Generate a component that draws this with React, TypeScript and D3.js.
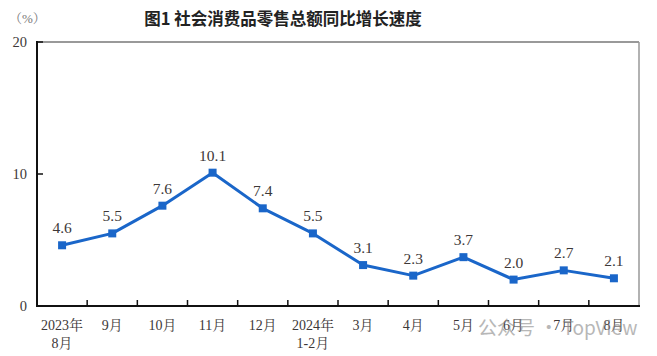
import React from "react";
import * as d3 from "d3";

const categories = ["2023年|8月", "9月", "10月", "11月", "12月", "2024年|1-2月", "3月", "4月", "5月", "6月", "7月", "8月"];
const values = [4.6, 5.5, 7.6, 10.1, 7.4, 5.5, 3.1, 2.3, 3.7, 2.0, 2.7, 2.1];
const yTicks = [0, 10, 20];
const title = "图1 社会消费品零售总额同比增长速度";

const W = 657, H = 356;
const left = 37, right = 639, top = 42, bottom = 306;
const blue = "#1a66c9";
const textCol = "#3d3838";
const serif = "'Liberation Serif', 'Noto Serif CJK SC', 'Noto Sans CJK SC', serif";

export default function App() {
  const x = d3.scaleBand<string>().domain(categories).range([left, right]);
  const y = d3.scaleLinear().domain([0, 20]).range([bottom, top]);
  const cx = (c: string) => (x(c) as number) + x.bandwidth() / 2;
  const line = d3.line<number>().x((_, i) => cx(categories[i])).y((v) => y(v));
  const tickXs = categories.slice(1).map((c) => x(c) as number);

  return (
    <svg width={W} height={H} style={{ position: "absolute", left: 0, top: 0, background: "#fff" }}>
      <rect x={0} y={0} width={W} height={H} fill="#fff" />
      <text x={9} y={23} fontFamily={serif} fontSize={13} fill="#777">（%）</text>
      <text x={283} y={25} textAnchor="middle" fontFamily="'Noto Sans CJK SC', sans-serif" fontWeight={700} fontSize={16.5} fill="#222">{title}</text>
      {/* frame */}
      <line x1={left} x2={right} y1={top} y2={top} stroke="#999" strokeWidth={2} />
      <line x1={right} x2={right} y1={top} y2={bottom} stroke="#999" strokeWidth={1.5} />
      <line x1={left} x2={left} y1={top - 1} y2={bottom + 1} stroke="#111" strokeWidth={2} />
      <line x1={left - 1} x2={right + 1} y1={bottom} y2={bottom} stroke="#111" strokeWidth={2} />
      {yTicks.map((t) => (
        <g key={t}>
          <line x1={left} x2={left + 6} y1={y(t)} y2={y(t)} stroke="#111" strokeWidth={1.5} />
          <text x={27} y={y(t) + 5} textAnchor="end" fontFamily={serif} fontSize={14.5} fill={textCol}>{t}</text>
        </g>
      ))}
      {tickXs.map((tx, i) => (
        <line key={i} x1={tx} x2={tx} y1={bottom} y2={bottom - 6} stroke="#111" strokeWidth={1.5} />
      ))}
      {categories.map((c) => {
        const parts = c.split("|");
        return (
          <text key={c} textAnchor="middle" fontFamily={serif} fontSize={14} fill={textCol}>
            <tspan x={cx(c)} y={330}>{parts[0]}</tspan>
            {parts[1] && <tspan x={cx(c)} y={348}>{parts[1]}</tspan>}
          </text>
        );
      })}
      <path d={line(values) || ""} fill="none" stroke={blue} strokeWidth={3} strokeLinejoin="round" />
      {values.map((v, i) => (
        <g key={i}>
          <rect x={cx(categories[i]) - 4} y={y(v) - 4} width={8} height={8} fill={blue} />
          <text x={cx(categories[i])} y={y(v) - 12} textAnchor="middle" fontFamily={serif} fontSize={15.5} fill={textCol}>{v.toFixed(1)}</text>
        </g>
      ))}
      <text x={478} y={335} fontFamily="'Noto Sans CJK SC', sans-serif" fontSize={19} fill="#888" opacity={0.6}>公众号 · TopView</text>
    </svg>
  );
}
